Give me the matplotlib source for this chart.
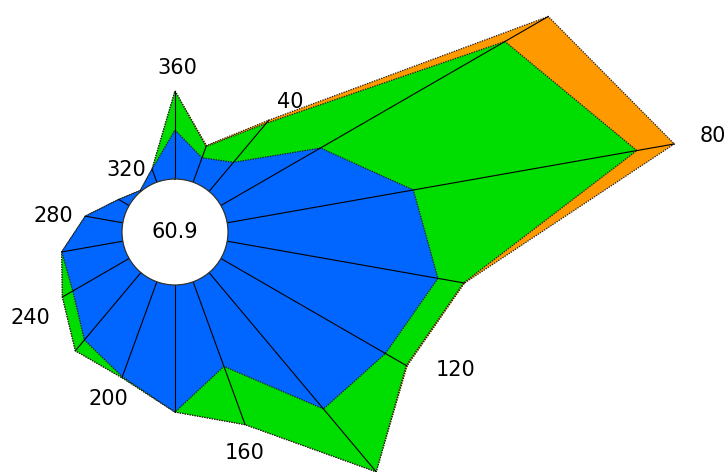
import numpy as np
import matplotlib.pyplot as plt

# wind direction (deg, clockwise from north)
directions = [0, 20, 40, 60, 80, 100, 120, 140, 160, 180,
              200, 220, 240, 260, 280, 300, 320, 340]
# stacked layer values, inner to outer
blue = [4.9, 2.6, 3.8, 11.5, 18.9, 21.4, 19.0, 17.8, 9.0, 12.7,
        10.1, 8.8, 6.5, 6.2, 3.8, 1.2, 0.1, 1.4]
green = [3.9, 1.2, 5.1, 21.3, 22.7, 2.6, 2.4, 8.2, 6.2, 0.0,
         0.1, 1.4, 1.2, 0.0, 0.0, 0.0, 0.0, 0.0]
orange = [0.0, 0.1, 0.4, 5.0, 3.8, 0.1, 0.1, 0.0, 0.0, 0.0,
          0.0, 0.0, 0.0, 0.0, 0.0, 0.0, 0.0, 0.0]
calm = '60.9'
label_dirs = [0, 40, 80, 120, 160, 200, 240, 280, 320]
label_text = ['360', '40', '80', '120', '160', '200', '240', '280', '320']


def main():
    fig = plt.figure(figsize=(7.28, 4.72), dpi=100)
    # big square polar axes centred where the rose sits, spilling off the figure
    W, H = 728., 472.
    R = 553.
    cx, cy = 175., 240.
    ax = fig.add_axes([(cx - R) / W, (cy - R) / H, 2 * R / W, 2 * R / H],
                      projection='polar')
    ax.set_theta_zero_location('N')
    ax.set_theta_direction(-1)
    ax.set_ylim(0, 50)
    ax.set_rorigin(-5.3)

    th = np.deg2rad(directions)
    b = np.array(blue)
    g = b + np.array(green)
    o = g + np.array(orange)

    thc = np.append(th, th[0])
    edge = dict(edgecolor='#1a1a1a', linestyle=(0, (1, 1)), linewidth=0.9)
    ax.fill(thc, np.append(o, o[0]), facecolor='#ff9900', **edge)
    ax.fill(thc, np.append(g, g[0]), facecolor='#00dd00', **edge)
    ax.fill(thc, np.append(b, b[0]), facecolor='#0066ff', **edge)

    for t, r in zip(th, o):
        ax.plot([t, t], [0, r], color='black', linewidth=0.8)

    offsets = [(2, 23), (21, 18), (39, 8), (48, -4), (0, -28),
               (-14, -21), (-32, -21), (-32, 0), (-14, 21)]
    for d, txt, off in zip(label_dirs, label_text, offsets):
        i = directions.index(d)
        ax.annotate(txt, xy=(th[i], o[i]), xytext=off, textcoords='offset pixels',
                    ha='center', va='center', fontsize=15, annotation_clip=False)

    ax.text(0.5, 0.5, calm, transform=ax.transAxes, ha='center', va='center',
            fontsize=15)

    ax.grid(False)
    ax.set_xticks([])
    ax.set_yticks([])
    ax.spines['polar'].set_visible(False)
    ax.spines['inner'].set_linestyle((0, (1, 1)))
    ax.spines['inner'].set_linewidth(0.9)
    ax.spines['inner'].set_edgecolor('#333333')

    fig.savefig('out.png', dpi=100)


if __name__ == '__main__':
    main()
